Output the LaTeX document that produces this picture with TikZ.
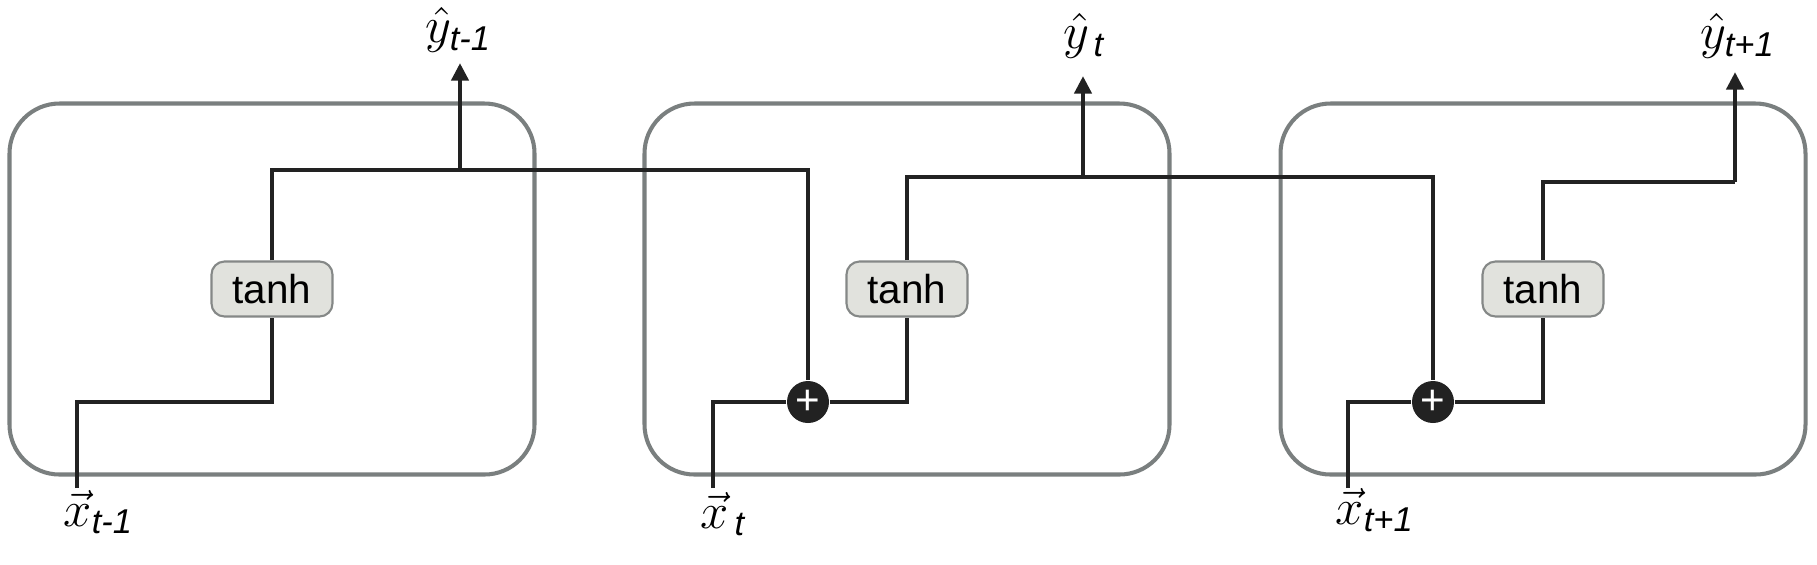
\documentclass[tikz,border=0pt]{standalone}
\usepackage{amsmath}
\usepackage{fontspec}
\setmainfont{Liberation Sans}
\usepackage{tikz}
\usetikzlibrary{arrows.meta,positioning,calc}
\definecolor{cellGrey}{HTML}{7A7F7F}
\definecolor{wireBlack}{HTML}{222222}
\definecolor{tanhFill}{HTML}{E1E2DD}
\definecolor{tanhEdge}{HTML}{858887}

\begin{document}
\begin{tikzpicture}[x=0.1mm,y=-0.1mm,
  cell/.style={draw=cellGrey,line width=1.15pt,rounded corners=5mm,minimum width=5.25cm,minimum height=3.71cm,inner sep=0pt},
  act/.style={draw=tanhEdge,fill=tanhFill,line width=0.6pt,rounded corners=1.3mm,minimum width=1.21cm,minimum height=0.55cm,inner sep=0pt,font=\fontsize{11.5}{13}\selectfont},
  sum/.style={circle,fill=wireBlack,minimum size=0.42cm,inner sep=0pt,text=white,font=\fontsize{12}{13}\selectfont},
  wire/.style={draw=wireBlack,line width=1.3pt},
  outarrow/.style={wire,-{Triangle[length=5pt,width=4.8pt]}},
  lbl/.style={inner sep=0pt,anchor=west,font=\fontsize{14}{16}\selectfont}]
\useasboundingbox (0,0) rectangle (1817,564);
\fill[white] (0,0) rectangle (1817,564);
\foreach \i/\cx in {1/272,2/907,3/1543} {
  \node[cell] (cell\i) at (\cx,289) {};
  \node[act] (tanh\i) at (cell\i.center) {tanh};
}
\node[sum] (sum2) at (808,402) {+};
\node[sum] (sum3) at (1433,402) {+};
\coordinate (in1) at (77,488);
\coordinate (in2) at (713,488);
\coordinate (in3) at (1348,488);
\coordinate (j1) at (460,170);
\coordinate (j2) at (1083,177);
\coordinate (j3) at (1735,182);
\coordinate (tip1) at (460,63);
\coordinate (tip2) at (1083,76);
\coordinate (tip3) at (1735,72);
\draw[wire] (in1) -- ++(0,-86) -| (tanh1.south);
\draw[wire] (in2) |- (sum2.west);
\draw[wire] (in3) |- (sum3.west);
\draw[wire] (sum2.east) -| (tanh2.south);
\draw[wire] (sum3.east) -| (tanh3.south);
\draw[wire] (tanh1.north) |- (j1) -| (sum2.north);
\draw[wire] (tanh2.north) |- (j2) -| (sum3.north);
\draw[wire] (tanh3.north) |- (j3);
\draw[outarrow] (j1) -- (tip1);
\draw[outarrow] (j2) -- (tip2);
\draw[outarrow] (j3) -- (tip3);
\node[lbl] (yhat1) at (425,30) {$\hat{y}_{\textit{t-1}}$};
\node[lbl] (yhat2) at (1063,36) {$\hat{y}_{\,\textit{t}}$};
\node[lbl] (yhat3) at (1700,36) {$\hat{y}_{\textit{t+1}}$};
\node[lbl] (xvec1) at (63,512) {$\vec{x}_{\textit{t-1}}$};
\node[lbl] (xvec2) at (700,514) {$\vec{x}_{\,\textit{t}}$};
\node[lbl] (xvec3) at (1335,510) {$\vec{x}_{\textit{t+1}}$};
\end{tikzpicture}
\end{document}
